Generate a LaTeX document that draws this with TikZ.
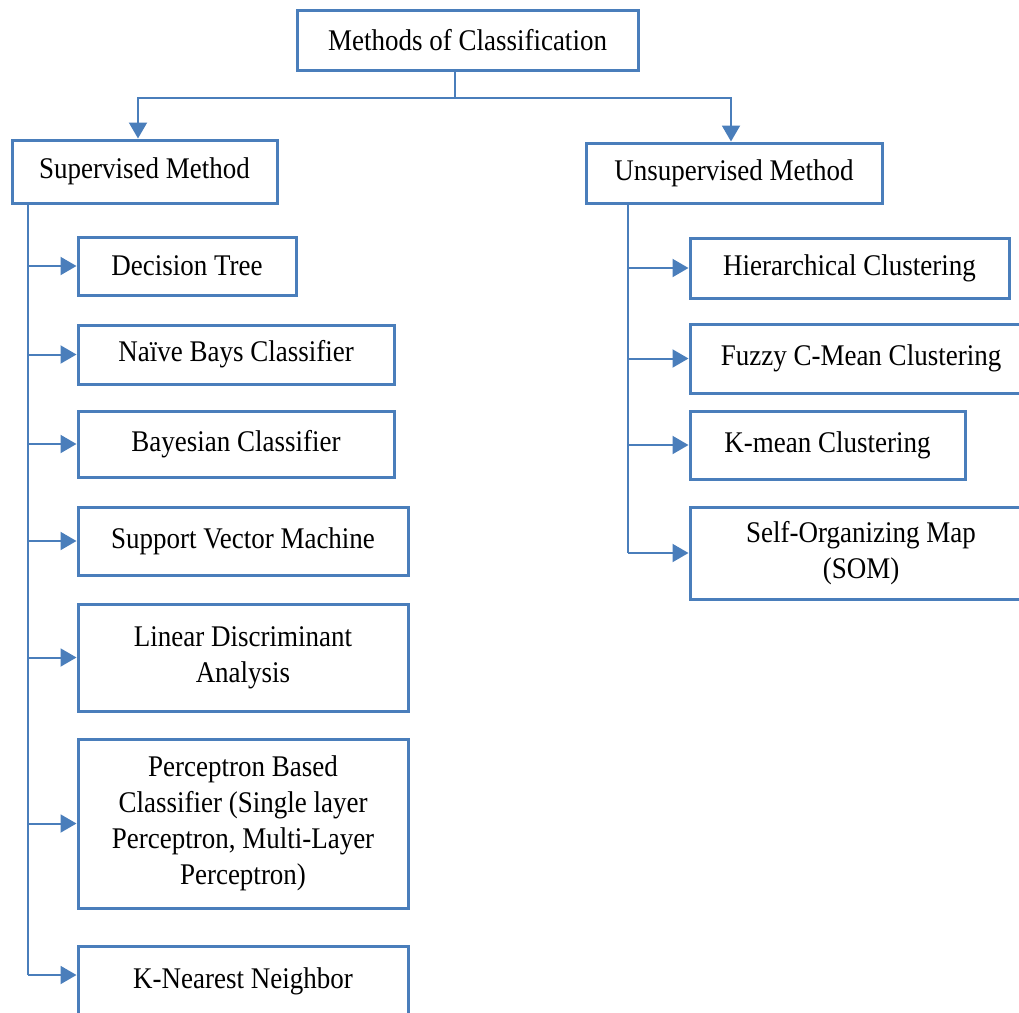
\documentclass[tikz,border=0pt]{standalone}
\usepackage{fontspec}
\setmainfont{Liberation Serif}[FakeStretch=0.9]
\usetikzlibrary{arrows.meta}
\definecolor{boxblue}{RGB}{74,126,187}
\tikzset{
  mbox/.style={draw=boxblue, line width=3pt, fill=white, align=center,
    inner sep=2pt, font=\fontsize{30}{36}\selectfont, text=black},
  conn/.style={draw=boxblue, line width=2pt},
  arr/.style={conn, -{Triangle[length=16pt,width=18pt]}}
}
\begin{document}
\begin{tikzpicture}[x=1pt,y=-1pt]
\useasboundingbox (0,0) rectangle (1019,1012);
\begin{scope}
\clip (0,0) rectangle (1019,1012);

% root and the two method families
\node[mbox, minimum width=341, minimum height=60] (root) at (467.5,40) {Methods of Classification};
\node[mbox, minimum width=265, minimum height=63] (sup) at (144.5,171.5) {Supervised Method};
\node[mbox, minimum width=296, minimum height=60] (unsup) at (734,173) {Unsupervised Method};

% supervised methods
\node[mbox, minimum width=218, minimum height=58] (dt) at (187,266) {Decision Tree};
\node[mbox, minimum width=316, minimum height=59] (nb) at (236,354.5) {Naïve Bays Classifier};
\node[mbox, minimum width=316, minimum height=66] (bc) at (236,444) {Bayesian Classifier};
\node[mbox, minimum width=330, minimum height=68] (svm) at (243,541) {Support Vector Machine};
\node[mbox, minimum width=330, minimum height=107] (lda) at (243,657.5) {Linear Discriminant\\Analysis};
\node[mbox, minimum width=330, minimum height=169] (pc) at (243,823.5) {Perceptron Based\\Classifier (Single layer\\Perceptron, Multi-Layer\\Perceptron)};
\node[mbox, minimum width=330, minimum height=76, anchor=north] (knn) at (243,945) {\raisebox{12pt}{K-Nearest Neighbor}};

% unsupervised methods
\node[mbox, minimum width=319, minimum height=60] (hc) at (849.5,268) {Hierarchical Clustering};
\node[mbox, minimum width=342, minimum height=69] (fz) at (861,358.5) {Fuzzy C-Mean Clustering};
\node[mbox, minimum width=275, minimum height=68] (km) at (827.5,445) {K-mean Clustering};
\node[mbox, minimum width=342, minimum height=92] (som) at (861,553) {Self-Organizing Map\\(SOM)};

% split under the root
\coordinate (split) at (455,98);
\draw[conn] (root.south -| split) -- (split);
\draw[arr] (split) -| ([xshift=-6.5pt]sup.north);
\draw[arr] (split) -| ([xshift=-3pt]unsup.north);

% supervised trunk
\coordinate (lx) at (28,0);
\coordinate (kn) at (28,975);
\draw[conn] (lx |- sup.south) -- (kn);
\draw[arr] (kn) -- (knn.west |- kn);
\foreach \n in {dt,nb,bc,svm,lda,pc}
  \draw[arr] (lx |- \n.west) -- (\n.west);

% unsupervised trunk
\coordinate (rx) at (628,0);
\draw[conn] (rx |- unsup.south) -- (rx |- som.west);
\foreach \n in {hc,fz,km,som}
  \draw[arr] (rx |- \n.west) -- (\n.west);
\end{scope}
\end{tikzpicture}
\end{document}
